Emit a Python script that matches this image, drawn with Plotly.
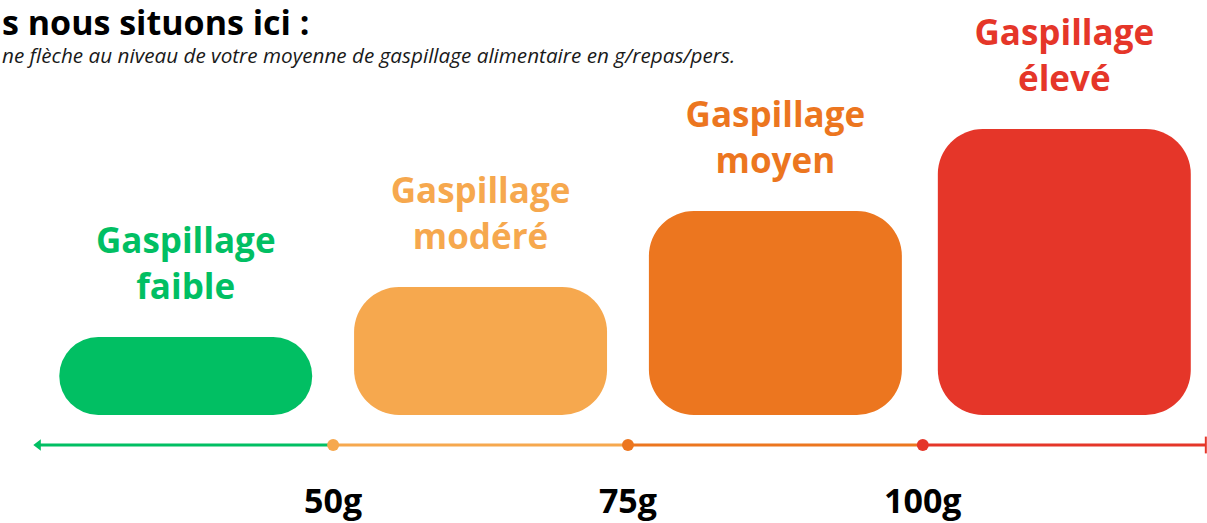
import plotly.graph_objects as go

# ---- data ----
categories = ["Gaspillage<br>faible", "Gaspillage<br>modéré", "Gaspillage<br>moyen", "Gaspillage<br>élevé"]
levels = [78, 128, 204, 286]            # visual height of each block
bounds = [25, 50, 75, 100, 124]         # g/repas/pers band limits
tick_values = [50, 75, 100]
tick_labels = ["50g", "75g", "100g"]
title_text = "s nous situons ici :"
subtitle_text = "ne flèche au niveau de votre moyenne de gaspillage alimentaire en g/repas/pers."

# ---- style ----
colors = ["#01bf63", "#f6a84e", "#ec761f", "#e53629"]
radii = [39, 45, 45, 45]
bar_width = 21.45
axis_y = -30
tick_label_y = -89
label_offset = 70
FONT = "Open Sans"

fig = go.Figure()

mids = [(bounds[i] + bounds[i + 1]) / 2 for i in range(len(levels))]

for i, (cat, h) in enumerate(zip(categories, levels)):
    fig.add_trace(go.Bar(x=[mids[i]], y=[h], base=[0], width=bar_width,
                         marker=dict(color=colors[i], cornerradius=radii[i], line=dict(width=0)),
                         hoverinfo="skip"))
    fig.add_trace(go.Scatter(x=[mids[i]], y=[h + label_offset], mode="text", text=[cat],
                             textposition="middle center",
                             textfont=dict(family=FONT, size=35, color=colors[i], weight=700),
                             hoverinfo="skip"))
    fig.add_trace(go.Scatter(x=[bounds[i], bounds[i + 1]], y=[axis_y, axis_y], mode="lines",
                             line=dict(color=colors[i], width=3), hoverinfo="skip"))

fig.add_trace(go.Scatter(x=[bounds[0]], y=[axis_y], mode="markers",
                         marker=dict(symbol="triangle-left", size=10, color=colors[0]),
                         hoverinfo="skip", cliponaxis=False))
fig.add_trace(go.Scatter(x=[bounds[-1]], y=[axis_y], mode="markers",
                         marker=dict(symbol="line-ns", size=12, color=colors[-1],
                                     line=dict(width=2, color=colors[-1])),
                         hoverinfo="skip", cliponaxis=False))
fig.add_trace(go.Scatter(x=tick_values, y=[axis_y] * len(tick_values), mode="markers",
                         marker=dict(size=12, color=colors[1:4]), hoverinfo="skip"))
fig.add_trace(go.Scatter(x=tick_values, y=[tick_label_y] * len(tick_values), mode="text",
                         text=tick_labels, textposition="middle center",
                         textfont=dict(family=FONT, size=34, color="#000000", weight=700),
                         hoverinfo="skip", cliponaxis=False))

fig.add_annotation(xref="paper", yref="paper", x=0, y=1 - 22 / 523, xanchor="left", yanchor="middle",
                   text=title_text, showarrow=False,
                   font=dict(family=FONT, size=34, color="#000000", weight=700))
fig.add_annotation(xref="paper", yref="paper", x=0, y=1 - 55 / 523, xanchor="left", yanchor="middle",
                   text=subtitle_text, showarrow=False,
                   font=dict(family=FONT, size=20.7, color="#1a1a1a", style="italic"))

fig.update_layout(
    width=1207, height=523,
    margin=dict(l=0, r=0, t=0, b=0),
    paper_bgcolor="white", plot_bgcolor="white",
    showlegend=False, barmode="overlay",
    xaxis=dict(range=[21.75, 124.1], visible=False, fixedrange=True),
    yaxis=dict(range=[-108, 415], visible=False, fixedrange=True),
    font=dict(family=FONT),
)

fig.write_html("out.html", config={"displayModeBar": False},
               post_script="document.body.style.margin='0';")
